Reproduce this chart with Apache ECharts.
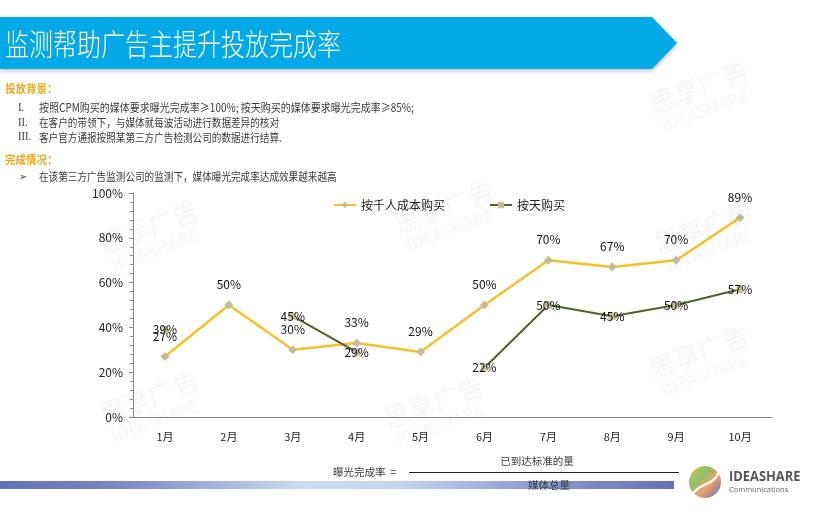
<!DOCTYPE html>
<html>
<head>
<meta charset="utf-8">
<script src="https://cdn.jsdelivr.net/npm/echarts@6/dist/echarts.min.js"></script>
<style>
  html, body { margin: 0; padding: 0; background: #fff; }
  #main { width: 814px; height: 514px; }
</style>
</head>
<body>
<div id="main"></div>
<script>
// 月份
var months = ['1月', '2月', '3月', '4月', '5月', '6月', '7月', '8月', '9月', '10月'];
// 按千人成本购买 (%)
var cpmRate = [27, 50, 30, 33, 29, 50, 70, 67, 70, 89];
// 按天购买 (%)，空月份为 null
var dayRate = [39, null, 45, 29, null, 22, 50, 45, 50, 57];
var seriesNames = ['按千人成本购买', '按天购买'];

var title = '监测帮助广告主提升投放完成率';
var bgLines = [
  ['I.', '按照CPM购买的媒体要求曝光完成率≥100%; 按天购买的媒体要求曝光完成率≥85%;'],
  ['II.', '在客户的带领下，与媒体就每波活动进行数据差异的核对'],
  ['III.', '客户官方通报按照某第三方广告检测公司的数据进行结算.']
];
var doneLine = '在该第三方广告监测公司的监测下，媒体曝光完成率达成效果越来越高';

var cjk = '"Noto Sans CJK SC", "Microsoft YaHei", sans-serif';
var gold = '#f0a81a';
var bodyColor = '#3a3a3a';

function txt(x, y, text, opt) {
  opt = opt || {};
  return {
    type: 'text', x: x, y: y, z: opt.z || 5,
    scaleX: opt.sx || 1, scaleY: opt.sy || 1,
    rotation: opt.rot || 0,
    style: {
      text: text,
      fill: opt.color || bodyColor,
      fontSize: opt.size || 10,
      fontWeight: opt.weight || 'normal',
      fontFamily: opt.family || cjk,
      textAlign: opt.align || 'left',
      textVerticalAlign: 'middle'
    }
  };
}

// 水印
var marks = [[100, 245], [395, 225], [650, 105], [650, 370], [100, 415], [385, 420], [655, 245]];
var graphics = [];
marks.forEach(function (m) {
  graphics.push(txt(m[0], m[1], '思享广告', {size: 26, color: 'rgba(0,0,0,0.038)', rot: 0.35, z: 0}));
  graphics.push(txt(m[0] + 12, m[1] + 22, 'IDEASHARE', {size: 17, color: 'rgba(0,0,0,0.038)', rot: 0.35, z: 0, family: 'Noto Sans'}));
});

// 标题条
graphics.push({
  type: 'polygon', z: 3,
  shape: {points: [[0, 17], [652, 17], [677, 43], [652, 69], [0, 69]]},
  style: {fill: '#03a9e6', shadowBlur: 4, shadowOffsetY: 2, shadowColor: 'rgba(0,0,0,0.25)'}
});
graphics.push(txt(5, 44, title, {size: 24, color: '#ffffff', sy: 1.25, weight: 300}));

graphics.push(txt(5, 89, '投放背景：', {size: 10.5, color: gold, weight: 'bold', sy: 1.12}));
bgLines.forEach(function (l, i) {
  var y = 108 + i * 14.7;
  graphics.push(txt(18, y, l[0], {size: 10.5, family: '"Liberation Serif", serif', sy: 1.1}));
  graphics.push(txt(39, y, l[1], {size: 10, sy: 1.15, sx: i === 0 ? 1 : 0.96}));
});
graphics.push(txt(5, 160, '完成情况：', {size: 10.5, color: gold, weight: 'bold', sy: 1.12}));
graphics.push(txt(19, 177, '➢', {size: 10, family: '"DejaVu Sans", sans-serif'}));
graphics.push(txt(39, 177, doneLine, {size: 10, sy: 1.15, sx: 0.96}));

// 底部条
graphics.push({
  type: 'rect', z: 1,
  shape: {x: 0, y: 481, width: 674, height: 8},
  style: {
    fill: new echarts.graphic.LinearGradient(0, 0, 1, 0, [
      {offset: 0, color: '#6474b9'},
      {offset: 0.15, color: '#7381c0'},
      {offset: 0.45, color: '#c9dcf1'},
      {offset: 0.6, color: '#c2d3ee'},
      {offset: 0.8, color: '#8c98cf'},
      {offset: 1, color: '#6472b7'}
    ])
  }
});

// 公式
graphics.push(txt(333, 472, '曝光完成率  =', {size: 10.5}));
graphics.push({type: 'line', z: 5, shape: {x1: 409, y1: 472.5, x2: 679, y2: 472.5}, style: {stroke: '#222', lineWidth: 1}});
graphics.push(txt(537, 461, '已到达标准的量', {size: 10.5, align: 'center'}));
graphics.push(txt(549, 485, '媒体总量', {size: 10.5, align: 'center'}));

// logo
graphics.push({
  type: 'circle', z: 5,
  shape: {cx: 705, cy: 482, r: 16},
  style: {
    fill: new echarts.graphic.LinearGradient(0, 0, 1, 1, [
      {offset: 0, color: '#e8c93a'},
      {offset: 0.35, color: '#8cc06a'},
      {offset: 0.6, color: '#f0a06a'},
      {offset: 1, color: '#4f74b8'}
    ])
  }
});
graphics.push({
  type: 'bezierCurve', z: 6,
  shape: {x1: 692, y1: 495, x2: 719, y2: 472, cpx1: 702, cpy1: 480, cpx2: 712, cpy2: 488},
  style: {stroke: '#ffffff', lineWidth: 2.2, fill: null}
});
graphics.push(txt(729, 477, 'IDEASHARE', {size: 14, color: '#555', weight: 'bold', family: '"Open Sans", sans-serif', sx: 0.92}));
graphics.push(txt(729, 490, 'Communications', {size: 7.5, color: '#666', family: '"Open Sans", sans-serif'}));

var myChart = echarts.init(document.getElementById('main'));
var option = {
  backgroundColor: '#ffffff',
  textStyle: {fontFamily: cjk},
  graphic: graphics,
  legend: {
    top: 194,
    left: 328,
    itemGap: 44,
    itemWidth: 22,
    itemHeight: 8,
    textStyle: {fontSize: 12, color: '#222'},
    data: seriesNames
  },
  grid: {left: 133, right: 42, top: 193, bottom: 97},
  xAxis: {
    type: 'category',
    data: months,
    boundaryGap: true,
    axisLine: {lineStyle: {color: '#8a8a8a'}},
    axisTick: {alignWithLabel: false, length: 5, lineStyle: {color: '#8a8a8a'}},
    axisLabel: {fontSize: 11, color: '#222', margin: 14}
  },
  yAxis: {
    type: 'value',
    min: 0, max: 100, interval: 20,
    axisLine: {show: true, lineStyle: {color: '#8a8a8a'}},
    axisTick: {show: true, length: 4, lineStyle: {color: '#8a8a8a'}},
    minorTick: {show: true, splitNumber: 5, length: 3, lineStyle: {color: '#8a8a8a'}},
    splitLine: {show: false},
    axisLabel: {formatter: '{value}%', fontSize: 12, color: '#222', margin: 10}
  },
  series: [
    {
      name: seriesNames[0],
      type: 'line',
      data: cpmRate,
      symbol: 'diamond',
      symbolSize: 9,
      lineStyle: {color: '#f2c12e', width: 2.5},
      itemStyle: {color: '#c4bd97'},
      label: {show: true, position: 'top', distance: 10, formatter: '{c}%', fontSize: 12, color: '#111'},
      emphasis: {disabled: true},
      z: 3
    },
    {
      name: seriesNames[1],
      type: 'line',
      data: dayRate,
      connectNulls: false,
      symbol: 'rect',
      symbolSize: 7,
      showAllSymbol: true,
      lineStyle: {color: '#4f6228', width: 2},
      itemStyle: {color: '#c4bd97'},
      label: {show: true, position: 'inside', formatter: '{c}%', fontSize: 12, color: '#111'},
      emphasis: {disabled: true},
      z: 4
    }
  ]
};
myChart.setOption(option);
</script>
</body>
</html>
